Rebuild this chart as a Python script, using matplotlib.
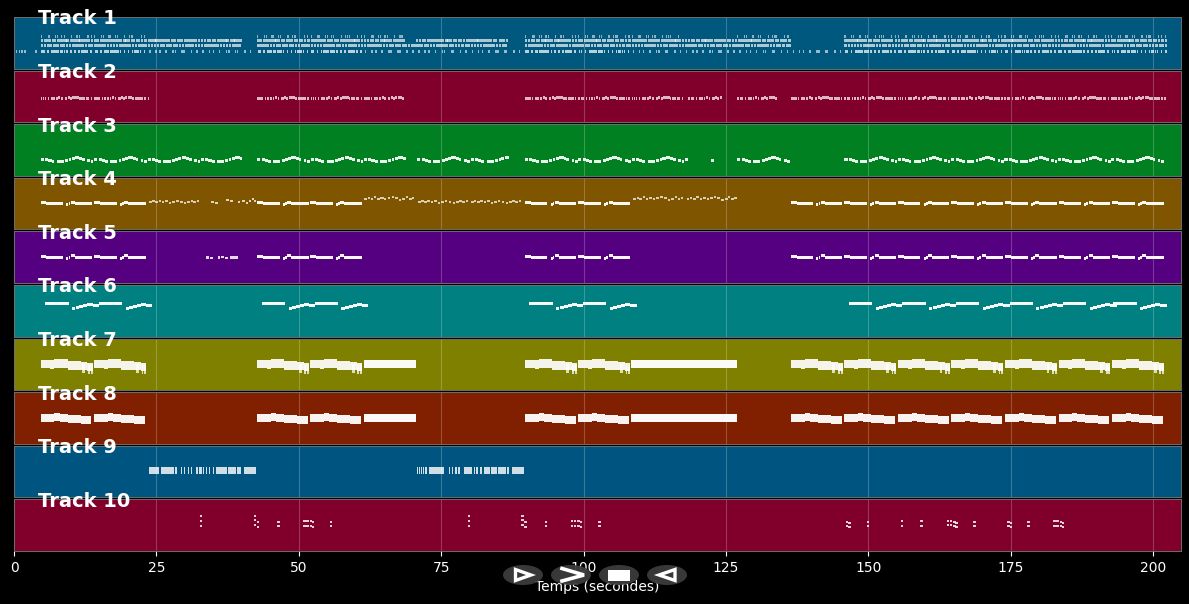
import matplotlib
matplotlib.use('Agg')
import matplotlib.pyplot as plt
from matplotlib.patches import Ellipse, Polygon, Rectangle

# band colours, top to bottom
track_colors = ['#00587f', '#80002b', '#008020', '#805500', '#550080',
                '#008080', '#808000', '#802000', '#005580', '#80002b']
period = 9.37

# motifs: (offset in s, duration in s, pitch level)
main_motif = [(0, 0.7, 27), (0.7, 0.3, 26.4), (1.0, 1.2, 26), (2.2, 0.9, 26.2), (3.1, 0.85, 26),
              (4.5, 0.35, 24.8), (4.9, 0.3, 25.6), (5.3, 0.7, 27.3), (6.0, 1.5, 26), (7.5, 1.55, 26.1)]
t6_motif = [(0, 0.6, 33.5), (0.6, 2.0, 33), (2.6, 1.5, 33), (4.7, 0.55, 28.3), (5.3, 0.7, 29.3),
            (6.0, 0.7, 30), (6.7, 0.7, 31), (7.4, 0.9, 32), (8.3, 1.1, 31)]
t7_motif = [(0, 1.7, 26.3), (1.7, 0.7, 25.8), (2.4, 2.3, 26.5), (4.7, 2.3, 24.6), (7.0, 1.2, 24), (8.2, 0.9, 23.4)]
t7_columns = [(7.3, 0.5, 21.5), (8.3, 0.3, 21), (8.75, 0.35, 21)]
t8_motif = [(0, 1.5, 26), (1.5, 0.9, 25.4), (2.4, 0.9, 26.6), (3.3, 1.4, 25.8), (4.7, 2.3, 25), (7.0, 1.9, 24)]
tiny_motif = [(0.1, 0.5, 27), (0.7, 0.4, 28), (1.2, 0.5, 27), (1.8, 0.4, 28.5), (2.4, 0.4, 27), (2.9, 0.6, 28),
              (3.6, 0.4, 26.5), (4.2, 0.5, 27.5), (4.9, 0.4, 28.5), (5.5, 0.5, 27.5), (6.2, 0.4, 26),
              (6.8, 0.5, 27), (7.4, 0.4, 28.5), (7.9, 0.5, 27), (8.5, 0.4, 28)]
t3_motif = [(0.0, 0.55, 16.5), (0.8, 0.5, 16), (1.3, 0.6, 15), (1.9, 0.5, 14), (2.8, 0.75, 14), (3.55, 0.5, 14.5),
            (4.3, 0.5, 15.5), (4.9, 0.45, 16.5), (5.4, 0.55, 17.5), (6.0, 0.8, 18), (6.8, 0.5, 17.5), (7.3, 0.45, 16),
            (8.2, 0.45, 15), (8.8, 0.45, 14)]
t3_extra = [(122.4, 0.5, 15.5)]
t2_motif = [(0.0, 0.3, 24), (0.4, 0.25, 23.5), (0.7, 0.3, 24), (1.3, 0.2, 24), (1.8, 0.35, 23.5), (2.2, 0.35, 24),
            (2.7, 0.3, 23.5), (3.1, 0.35, 24.5), (3.6, 0.25, 24), (4.2, 0.45, 24), (4.7, 0.35, 24.5), (5.1, 0.35, 24),
            (5.5, 0.35, 24.5), (5.9, 0.8, 25), (6.7, 0.3, 24), (7.1, 0.35, 23.5), (7.5, 0.35, 24), (7.9, 0.35, 24),
            (8.3, 0.25, 23.5), (8.8, 0.25, 24)]
# track 1 rows, onsets only
r32_onsets = [0.0, 1.2, 1.5, 2.5, 2.8, 3.6, 4.0, 5.3, 6.1, 6.4, 6.7, 8.2, 8.8]
r28_onsets = [0.0, 0.5, 1.0, 1.4, 1.9, 2.3, 2.8, 3.2, 3.6, 4.1, 4.5, 5.1, 5.5, 5.9, 6.4, 6.8, 7.3, 7.7, 8.2, 8.8]
r23_onsets = [0.0, 0.55, 1.1, 1.6, 2.2, 2.7, 3.3, 3.8, 4.4, 4.9, 5.5, 6.0, 6.6, 7.1, 7.7, 8.3, 8.8]
r17_onsets = [0.1, 0.4, 1.1, 1.8, 2.1, 2.4, 2.7, 3.0, 3.4, 3.7, 4.0, 4.5, 5.2, 5.9, 6.6, 7.0, 7.3, 7.6, 8.0, 8.7]
r17_sparse = [0.2, 1.3, 2.0, 3.1, 4.3, 4.7, 5.9, 6.2, 7.5, 8.5]

main_starts = [4.7, 14.1, 42.7, 52.0, 89.7, 99.1, 136.4, 145.8, 155.2, 164.6, 174.0, 183.4, 192.8]
t6_starts = [5.5, 14.9, 43.5, 52.8, 90.5, 99.9, 146.6, 156.0, 165.4, 174.8, 184.2, 193.0]
t4_low_starts = [23.6, 70.8, 80.1]
t4_high_starts = [61.4, 108.6, 118.0]
t3_sections = [(4.7, 40.5), (42.7, 68.8), (70.8, 87.0), (89.7, 118.8), (127.0, 136.5), (145.8, 202.5)]
t2_sections = [(4.7, 23.8), (42.7, 68.8), (89.7, 118.0), (118.4, 124.8), (127.0, 134.0), (136.4, 202.5)]
r32_sections = [(4.7, 23.5), (42.7, 68.8), (89.7, 117.0), (127.0, 136.5), (145.8, 202.5)]
r28_sections = [(4.7, 40.5), (42.7, 68.8), (70.6, 87.0), (89.7, 136.5), (145.8, 202.5)]
r23_sections = [(4.7, 40.0), (42.7, 87.0), (89.7, 136.5), (145.8, 202.5)]
r17_sections = [(4.7, 23.5), (42.7, 61.4), (89.7, 108.4), (145.8, 202.5)]
r17_sparse_sections = [(3.5, 4.7), (23.5, 42.7), (61.4, 89.7), (108.4, 145.8)]
t1_intro = [0.3, 0.8, 1.3, 1.8]

t4_sparse = [(34.6, 0.6, 27), (35.3, 0.5, 26), (37.2, 0.5, 29), (38.0, 0.4, 28), (39.3, 0.4, 27),
             (40.0, 0.5, 28), (40.7, 0.4, 26), (41.2, 0.4, 28), (41.7, 0.5, 30), (42.2, 0.3, 28)]
t5_sparse = [(33.7, 0.6, 25.5), (34.4, 0.5, 25), (35.8, 0.3, 25.5), (36.4, 0.5, 26), (37.0, 0.6, 25),
             (37.9, 0.5, 25.5), (38.5, 0.9, 25.5)]
t7_solid = [(61.4, 9.2, 26), (108.4, 18.6, 26)]
t8_solid = [(61.4, 9.2, 26), (108.4, 18.6, 26)]
t9_onsets = [0.0, 0.35, 0.7, 1.05, 1.4, 2.1, 2.5, 2.9, 3.3, 3.7, 4.1, 4.5, 5.6, 6.2, 6.8, 7.3, 8.3, 8.7, 9.1, 9.4,
             10.0, 10.5, 11.2, 11.8, 12.2, 12.6, 13.0, 13.4, 13.8, 14.2, 14.6, 15.0, 15.4, 15.8, 16.7]
t9_durs = [0.3, 0.3, 0.3, 0.3, 0.35, 0.36, 0.36, 0.36, 0.36, 0.36, 0.36, 0.36, 0.2, 0.2, 0.3, 0.3, 0.36, 0.36, 0.25, 0.3,
           0.2, 0.2, 0.25, 0.36, 0.36, 0.36, 0.36, 0.36, 0.36, 0.36, 0.36, 0.36, 0.36, 0.36, 2.1]
t9_starts = [23.7, 70.7]

t10_times = [32.6, 42.1, 42.6, 46.2, 50.8, 51.3, 51.9, 52.3, 55.5, 79.7, 89.1, 89.6, 93.2, 97.8, 98.3, 98.9, 99.3, 102.6,
             146.1, 146.5, 149.7, 155.7, 159.1, 163.8, 164.3, 164.9, 165.3, 168.4, 174.4, 174.8, 177.9, 182.5, 183.0, 183.6, 184.0]
t10_levels = [[35, 30, 25], [35, 31, 26], [29, 24], [29, 25], [30, 25], [30, 25], [30, 25], [29, 24], [29, 25],
              [35, 30, 25], [35, 31, 26], [29, 24], [29, 25], [30, 25], [30, 25], [30, 25], [29, 24], [29, 25],
              [29, 25], [28, 24], [29, 25], [30, 25], [30, 25], [30, 26], [30, 26], [29, 25], [28, 24], [29, 25],
              [29, 25], [28, 24], [29, 25], [30, 25], [30, 25], [29, 25], [28, 24]]

tick_vals = [0, 25, 50, 75, 100, 125, 150, 175, 200]


def notes(ax, ons, durs, lvls, h, alpha=0.85):
    ax.barh(lvls, durs, left=ons, height=h, color='white', alpha=alpha, linewidth=0, zorder=3)


def motif_at(ax, motif, starts, h, alpha=0.85):
    ons, durs, lvls = [], [], []
    for s in starts:
        for off, d, l in motif:
            ons.append(s + off)
            durs.append(d)
            lvls.append(l)
    notes(ax, ons, durs, lvls, h, alpha)


def motif_sections(ax, motif, sections, h, alpha=0.85):
    ons, durs, lvls = [], [], []
    for t0, t1 in sections:
        s = t0
        while s < t1:
            for off, d, l in motif:
                if s + off + d <= t1:
                    ons.append(s + off)
                    durs.append(d)
                    lvls.append(l)
            s += period
    notes(ax, ons, durs, lvls, h, alpha)


plt.rcParams['font.family'] = 'DejaVu Sans'
fig, axes = plt.subplots(10, 1, figsize=(11.89, 6.04), dpi=100, sharex=True, facecolor='black')
fig.subplots_adjust(left=14 / 1189, right=1181 / 1189, top=1 - 17 / 604, bottom=1 - 551 / 604, hspace=0.04)

for i, ax in enumerate(axes):
    ax.set_facecolor(track_colors[i])
    ax.set_xlim(0, 204.9)
    ax.set_ylim(0, 51.6)
    ax.set_yticks([])
    ax.set_xticks(tick_vals)
    ax.grid(axis='x', color='white', alpha=0.22, linewidth=0.8)
    ax.set_axisbelow(True)
    ax.tick_params(axis='x', colors='white', length=3.5 if i == 9 else 0, labelsize=10, pad=3.5)
    for sp in ax.spines.values():
        sp.set_color('#6e6e6e')
        sp.set_linewidth(0.7)
    ax.text(0.0206, 0.965, 'Track %d' % (i + 1), transform=ax.transAxes, color='white', fontsize=14,
            fontweight='bold', va='center', ha='left', clip_on=False, zorder=5)

# track 1
ax = axes[0]
motif_sections(ax, [(o, 0.2, 32) for o in r32_onsets], r32_sections, 3.0, 0.55)
motif_sections(ax, [(o, 0.42, 28) for o in r28_onsets], r28_sections, 2.6, 0.68)
motif_sections(ax, [(o, 0.45, 23) for o in r23_onsets], r23_sections, 2.6, 0.68)
motif_sections(ax, [(o, 0.28, 17) for o in r17_onsets], r17_sections, 3.0, 0.72)
motif_sections(ax, [(o, 0.28, 17) for o in r17_sparse], r17_sparse_sections, 2.6, 0.6)
notes(ax, t1_intro, [0.25] * len(t1_intro), [17] * len(t1_intro), 2.4, 0.6)

motif_sections(axes[1], t2_motif, t2_sections, 2.8, 0.72)
motif_sections(axes[2], t3_motif, t3_sections, 3.0, 0.92)
o_, d_, l_ = zip(*t3_extra)
notes(axes[2], o_, d_, l_, 3.0, 0.92)

# tracks 4 and 5 share the long notes
motif_at(axes[3], main_motif, main_starts, 3.0, 0.97)
motif_at(axes[3], tiny_motif, t4_low_starts, 2.2, 0.7)
motif_at(axes[3], [(o, d, l + 3.5) for o, d, l in tiny_motif], t4_high_starts, 2.2, 0.7)
o_, d_, l_ = zip(*t4_sparse)
notes(axes[3], o_, d_, l_, 2.2, 0.75)
motif_at(axes[4], [(o, d, l - 0.3) for o, d, l in main_motif], main_starts, 3.0, 0.97)
o_, d_, l_ = zip(*t5_sparse)
notes(axes[4], o_, d_, l_, 2.4, 0.85)

motif_at(axes[5], t6_motif, t6_starts, 3.0, 0.97)

motif_at(axes[6], t7_motif, main_starts, 8.5, 0.92)
motif_at(axes[6], t7_columns, main_starts, 9.0, 0.75)
o_, d_, l_ = zip(*t7_solid)
notes(axes[6], o_, d_, l_, 8.5, 0.97)
motif_at(axes[7], t8_motif, main_starts, 8.0, 0.95)
o_, d_, l_ = zip(*t8_solid)
notes(axes[7], o_, d_, l_, 8.0, 0.98)

for s in t9_starts:
    notes(axes[8], [s + o for o in t9_onsets], t9_durs, [27] * len(t9_onsets), 7, 0.82)

for t, lv in zip(t10_times, t10_levels):
    notes(axes[9], [t] * len(lv), [0.42] * len(lv), lv, 2.4, 0.82)

axes[9].set_xlabel('Temps (secondes)', color='white', fontsize=10, labelpad=4)

# player buttons over the bottom of the chart, in pixel coordinates
over = fig.add_axes([0, 0, 1, 1], facecolor='none')
over.set_xlim(0, 1189)
over.set_ylim(604, 0)
over.axis('off')
for cx in [523, 571, 619, 667]:
    over.add_patch(Ellipse((cx, 575), 40, 20, color='#3c3c3c', alpha=0.95, linewidth=0))
over.add_patch(Polygon([(515.5, 569.5), (515.5, 580.5), (531, 575)], closed=True, fill=False, edgecolor='white', linewidth=2.4))
over.plot([562, 584, 562], [568.5, 575, 581], color='white', linewidth=2.6, solid_joinstyle='miter')
over.add_patch(Rectangle((608, 570), 22, 11, color='white', linewidth=0))
over.add_patch(Polygon([(675, 569.5), (675, 580.5), (659, 575)], closed=True, fill=False, edgecolor='white', linewidth=2.4))

fig.savefig('out.png', dpi=100, facecolor='black')
